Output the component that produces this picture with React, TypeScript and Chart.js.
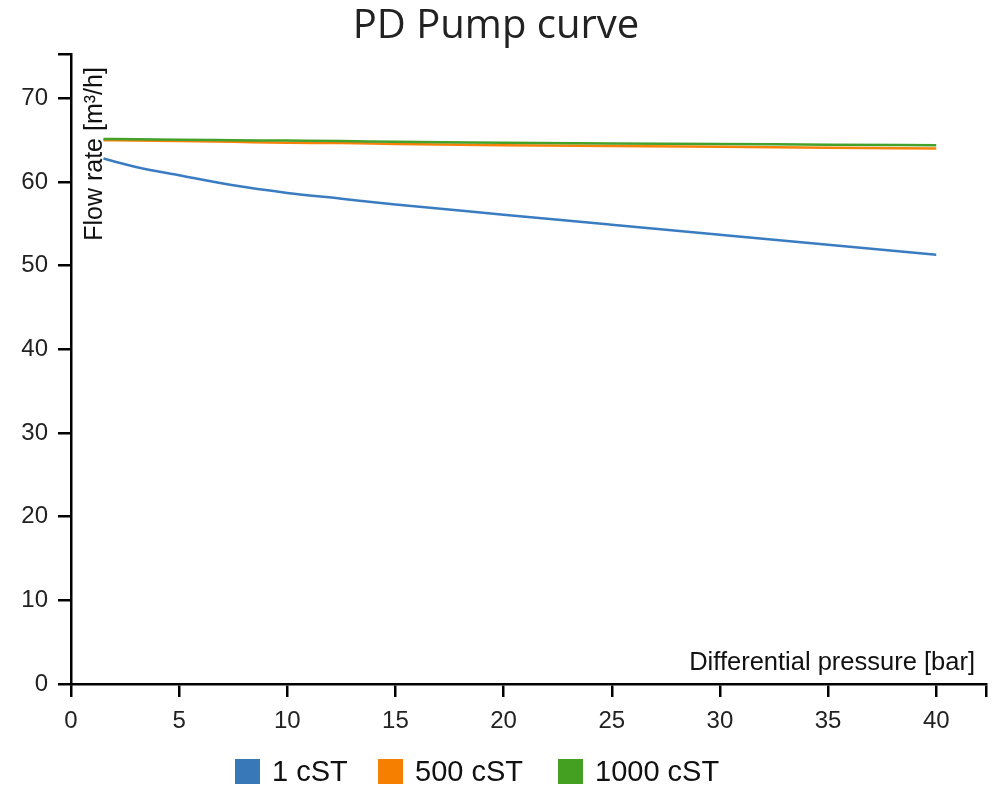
import React, { useEffect, useRef } from "react";
import { Chart, registerables } from "chart.js";

Chart.register(...registerables);

const TITLE = "PD Pump curve";
const X_TITLE = "Differential pressure [bar]";
const Y_TITLE = "Flow rate [m³/h]";

const pressure = [1.5, 3, 5, 7.5, 10, 12.5, 15, 20, 25, 30, 35, 40];
const flow1cst = [62.8, 61.8, 60.8, 59.6, 58.7, 58.0, 57.3, 56.1, 54.9, 53.7, 52.5, 51.3];
const flow500cst = [65.0, 64.95, 64.9, 64.8, 64.7, 64.65, 64.55, 64.4, 64.3, 64.2, 64.1, 64.0];
const flow1000cst = [65.15, 65.1, 65.05, 65.0, 64.95, 64.9, 64.8, 64.7, 64.6, 64.55, 64.45, 64.4];

const seriesNames = ["1 cST", "500 cST", "1000 cST"];
const lineColors = ["#3a7cc1", "#f8810a", "#44a12b"];
const legendColors = ["#3878b8", "#f77f00", "#44a020"];

const xTicks = [0, 5, 10, 15, 20, 25, 30, 35, 40];
const xMax = 42.3;
const yTicks = [0, 10, 20, 30, 40, 50, 60, 70];
const yMax = 75.3;

const FONT = "'Liberation Sans', Arial, sans-serif";

const axisTitles = {
  id: "axisTitles",
  afterDraw(chart: any) {
    const { ctx, chartArea } = chart;
    ctx.save();
    ctx.fillStyle = "#111";
    ctx.font = `25.5px ${FONT}`;
    ctx.textAlign = "right";
    ctx.textBaseline = "alphabetic";
    ctx.fillText(X_TITLE, chartArea.right - 11, chartArea.bottom - 14);
    ctx.translate(chartArea.left + 31, chartArea.top + 100);
    ctx.rotate(-Math.PI / 2);
    ctx.textAlign = "center";
    ctx.font = `25px ${FONT}`;
    ctx.fillText(Y_TITLE, 0, 0);
    ctx.restore();
  },
};

export default function App() {
  const ref = useRef<HTMLCanvasElement | null>(null);

  useEffect(() => {
    if (!ref.current) return;
    const data = [flow1cst, flow500cst, flow1000cst];
    const chart = new Chart(ref.current, {
      type: "line",
      data: {
        datasets: data.map((vals, i) => ({
          label: seriesNames[i],
          data: pressure.map((p, j) => ({ x: p, y: vals[j] })),
          borderColor: lineColors[i],
          backgroundColor: legendColors[i],
          borderWidth: 2.5,
          pointRadius: 0,
          cubicInterpolationMode: "monotone" as const,
          fill: false,
          order: i === 0 ? 0 : i === 2 ? 1 : 2,
        })),
      },
      options: {
        animation: false,
        responsive: false,
        maintainAspectRatio: false,
        layout: { padding: { left: 0, right: 4, top: 0, bottom: 52 } },
        plugins: {
          legend: { display: false },
          tooltip: { enabled: false },
          title: {
            display: true,
            text: TITLE,
            color: "#222",
            font: { family: "'Open Sans', sans-serif", size: 40, weight: "normal" },
            padding: { top: 3, bottom: 3 },
          },
        },
        scales: {
          x: {
            type: "linear",
            min: 0,
            max: xMax,
            afterBuildTicks: (scale: any) => {
              scale.ticks = [...xTicks, xMax].map((v) => ({ value: v }));
            },
            afterFit: (scale: any) => {
              scale.height = 50;
            },
            ticks: {
              autoSkip: false,
              maxRotation: 0,
              padding: 10,
              color: "#222",
              font: { family: FONT, size: 24 },
              callback: (v: any) => (xTicks.includes(v) ? String(v) : ""),
            },
            grid: {
              display: true,
              drawOnChartArea: false,
              drawTicks: true,
              tickLength: 13,
              color: "#000",
              lineWidth: 2.5,
            },
            border: { display: true, color: "#000", width: 2.5 },
          },
          y: {
            type: "linear",
            min: 0,
            max: yMax,
            afterBuildTicks: (scale: any) => {
              scale.ticks = [...yTicks, yMax].map((v) => ({ value: v }));
            },
            afterFit: (scale: any) => {
              scale.width = 71;
            },
            ticks: {
              autoSkip: false,
              padding: 10,
              color: "#222",
              font: { family: FONT, size: 24 },
              callback: (v: any) => (yTicks.includes(v) ? String(v) : ""),
            },
            grid: {
              display: true,
              drawOnChartArea: false,
              drawTicks: true,
              tickLength: 13,
              color: "#000",
              lineWidth: 2.5,
            },
            border: { display: true, color: "#000", width: 2.5 },
          },
        },
      },
      plugins: [axisTitles],
    });
    return () => chart.destroy();
  }, []);

  const legendLeft = [235, 378, 558];

  return (
    <div style={{ position: "absolute", left: 0, top: 0, width: 996, height: 786, background: "#fff" }}>
      <canvas ref={ref} width={996} height={786} style={{ display: "block", width: 996, height: 786 }} />
      {seriesNames.map((name, i) => (
        <div
          key={name}
          style={{
            position: "absolute",
            left: legendLeft[i],
            top: 759,
            height: 25,
            display: "flex",
            alignItems: "center",
            whiteSpace: "nowrap",
          }}
        >
          <span style={{ display: "inline-block", width: 25, height: 25, background: legendColors[i], marginRight: 12 }} />
          <span style={{ font: `29px ${FONT}`, lineHeight: "25px", color: "#111" }}>{name}</span>
        </div>
      ))}
    </div>
  );
}
